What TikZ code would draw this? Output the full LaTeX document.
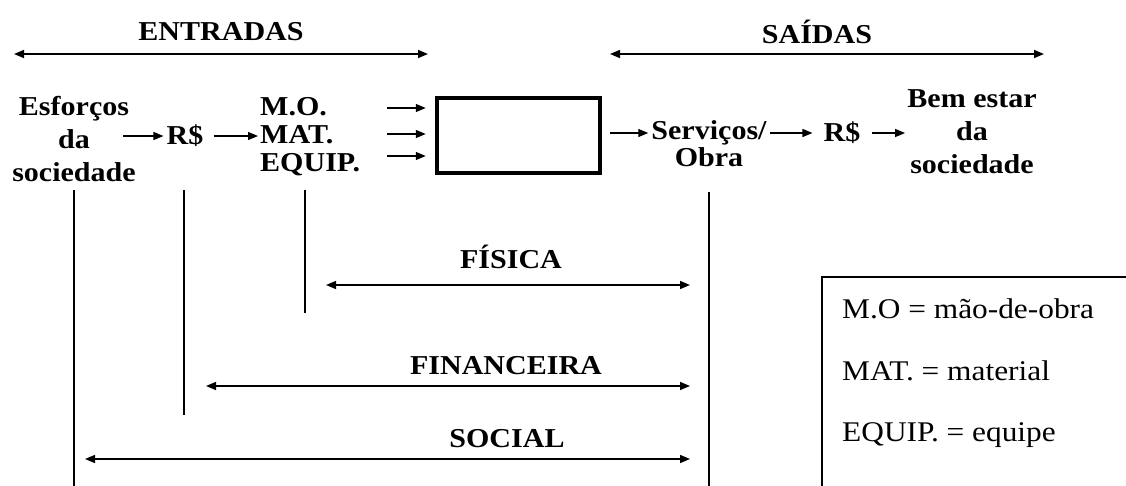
\documentclass[tikz,border=0pt]{standalone}
\usepackage{fontspec}
\setmainfont{Liberation Serif}[FakeStretch=1.1]
\usetikzlibrary{arrows.meta}
\tikzset{
  lbl/.style={font=\fontsize{27.3}{30}\selectfont\bfseries, inner sep=0pt},
  keytext/.style={font=\fontsize{28.5}{30}\selectfont, inner sep=0pt, anchor=base west},
  arr/.style={line width=1.3pt, -{Triangle[length=10pt,width=8pt]}},
  darr/.style={line width=1.5pt, {Triangle[length=10pt,width=8pt]}-{Triangle[length=10pt,width=8pt]}},
  vline/.style={line width=1.2pt},
}
\begin{document}
\begin{tikzpicture}[x=1pt,y=-1pt]
\useasboundingbox (0,0) rectangle (1126,485);

% headings with their spans
\node[lbl] (entradas) at (221,32) {ENTRADAS};
\node[lbl] (saidas) at (817,32) {SAÍDAS};
\coordinate (inL) at (14,54);   \coordinate (inR) at (428,54);
\coordinate (outL) at (610,54); \coordinate (outR) at (1044,54);
\draw[darr] (inL) -- (inR);
\draw[darr] (outL) -- (outR);

% inputs
\node[lbl,anchor=base] (esf) at (74,115) {Esforços};
\node[lbl,anchor=base] (esfda) at (74,148) {da};
\node[lbl,anchor=base] (esfsoc) at (74,181) {sociedade};
\node[lbl] (rin) at (185,136) {R\$};
\node[lbl,anchor=base west] (mo) at (260,115) {M.O.};
\node[lbl,anchor=base west] (mat) at (260,143) {MAT.};
\node[lbl,anchor=base west] (equip) at (260,171) {EQUIP.};
\coordinate (a1) at (123,136);
\draw[arr, shorten >=3pt] (a1) -- (rin.west);
\draw[arr, shorten <=10pt, shorten >=2pt] (rin.east) -- (rin.east -| mat.west);

% process box
\node[draw, line width=4.5pt, minimum width=163pt, minimum height=75pt, inner sep=0pt] (proc) at (518.5,135.5) {};
\foreach \yy [count=\i] in {108,134,156} {
  \coordinate (m\i) at (387,\yy);
  \draw[arr, shorten >=9pt] (m\i) -- (m\i -| proc.west);
}

% outputs
\node[lbl,anchor=base] (serv) at (709,139) {Serviços/};
\node[lbl,anchor=base] (obra) at (709,166) {Obra};
\node[lbl] (rout) at (842,133) {R\$};
\node[lbl,anchor=base] (bem) at (972,107) {Bem estar};
\node[lbl,anchor=base] (bemda) at (972,140) {da};
\node[lbl,anchor=base] (bemsoc) at (972,173) {sociedade};
\draw[arr, shorten <=8pt, shorten >=3pt] (proc.east |- rout.center) -- (serv.west |- rout.center);
\draw[arr, shorten <=3.5pt, shorten >=11pt] (serv.east |- rout.center) -- (rout.west);
\draw[arr, shorten <=11pt, shorten >=5pt] (rout.east) -- (bemsoc.west |- rout.center);

% drop lines
\coordinate (vS) at (74,190);
\coordinate (vR) at (184,190);
\coordinate (vE) at (305,190);
\coordinate (vO) at (709,192);
\draw[vline] (vS) -- ++(0,300);
\draw[vline] (vR) -- (184,415);
\draw[vline] (vE) -- (305,313);
\draw[vline] (vO) -- ++(0,300);

% dimensions
\node[lbl] (fis) at (511,257) {FÍSICA};
\node[lbl] (fin) at (506,366) {FINANCEIRA};
\node[lbl] (soc) at (507,439) {SOCIAL};
\coordinate (fisL) at (326,285); \coordinate (fisR) at (690,285);
\coordinate (finL) at (206,386); \coordinate (finR) at (690,386);
\coordinate (socL) at (85,459);  \coordinate (socR) at (690,459);
\draw[darr] (fisL) -- (fisR);
\draw[darr] (finL) -- (finR);
\draw[darr] (socL) -- (socR);

% key
\coordinate (keyC) at (822,277);
\draw[line width=1.5pt] (keyC |- 0,490) -- (keyC) -- (1130,277);
\node[keytext] (k1) at (842,318) {M.O = mão-de-obra};
\node[keytext] (k2) at (842,380) {MAT. = material};
\node[keytext] (k3) at (842,441) {EQUIP. = equipe};
\end{tikzpicture}
\end{document}
